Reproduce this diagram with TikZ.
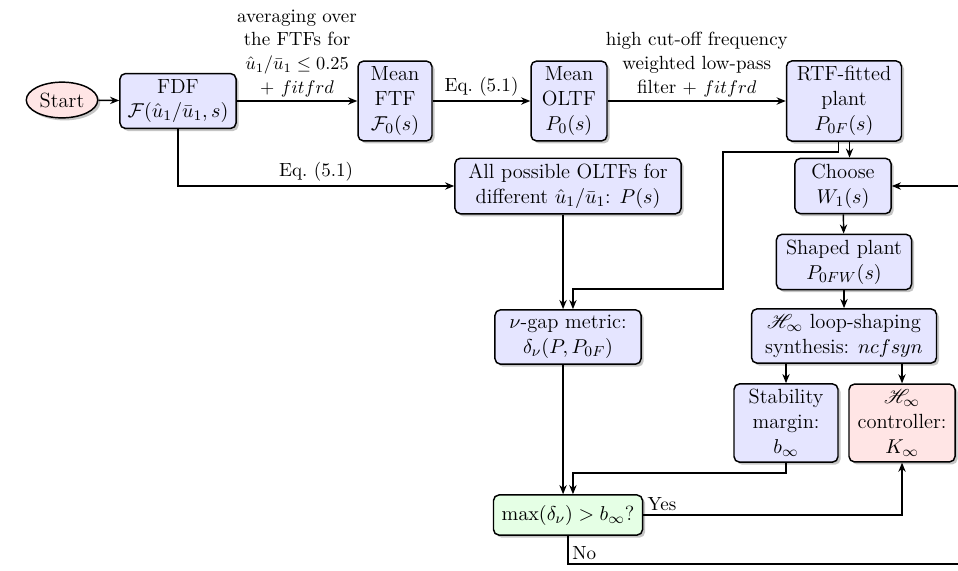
\documentclass[tikz,border=0pt]{standalone}
\usepackage{amsmath,amssymb}
\usepackage{mathrsfs}
\usepackage{tikz}
\usetikzlibrary{shapes.geometric,arrows.meta,shadows}

\begin{document}
\begin{tikzpicture}[x=0.0192cm,y=-0.0192cm,
        block/.style={draw=black,thick,rounded corners=3pt,fill=blue!10,align=center,
          font=\fontsize{11.2}{13.6}\selectfont,inner xsep=2.5pt,inner ysep=3pt,
          drop shadow={shadow xshift=1.4pt,shadow yshift=-1.4pt,fill=black!45}},
        redblock/.style={block,fill=red!10},
        greenblock/.style={block,fill=green!10},
        startnode/.style={draw=black,thick,ellipse,fill=red!10,minimum width=39pt,minimum height=19.5pt,
          font=\fontsize{11.2}{13.6}\selectfont,inner sep=1pt,
          drop shadow={shadow xshift=1.4pt,shadow yshift=-1.4pt,fill=black!45}},
        arr/.style={thick,-{Stealth[length=5pt,width=4pt]}},
        lbl/.style={align=center,inner sep=2pt,font=\fontsize{10.4}{12.9}\selectfont}]
        \useasboundingbox (0,0) rectangle (958,570);
        \clip (0,0) rectangle (958,570);
        \node [startnode] (start) at (62,100) {Start};
        \node [block,minimum width=63.4pt] (fdf) at (178,101) {FDF\\$\mathcal{F}(\hat{u}_1/\bar{u}_1,s)$};
        \node [block,minimum width=40.4pt] (mftf) at (395,101) {Mean\\FTF\\$\mathcal{F}_0(s)$};
        \node [block,minimum width=41.5pt] (moltf) at (569,101) {Mean\\OLTF\\$P_0(s)$};
        \node [block,minimum width=62.8pt] (rtf) at (844,101) {RTF-fitted\\plant\\$P_{0F}(s)$};
        \node [block,minimum width=123.5pt] (allp) at (568,186) {All possible OLTFs for\\different $\hat{u}_1/\bar{u}_1$: $P(s)$};
        \node [block,minimum width=52.5pt] (choose) at (843,186) {Choose\\$W_1(s)$};
        \node [block,minimum width=73.8pt] (shaped) at (844,262) {Shaped plant\\$P_{0FW}(s)$};
        \node [block,minimum width=101pt] (hinf) at (844,336) {$\mathscr{H}_\infty$ loop-shaping\\synthesis: $ncfsyn$};
        \node [block,minimum width=56.8pt] (stab) at (786,423) {Stability\\margin:\\$b_\infty$};
        \node [redblock,minimum width=57.9pt] (ctrl) at (902,423) {$\mathscr{H}_\infty$\\controller:\\$K_\infty$};
        \node [block,minimum width=79.8pt] (ngap) at (568,337) {$\nu$-gap metric:\\$\delta_\nu(P,P_{0F})$};
        \node [greenblock,minimum width=81.4pt,minimum height=21.9pt] (cmp) at (568,515) {$\max(\delta_\nu)>b_\infty$?};
        \coordinate (jogA) at (723,152);
        \coordinate (jogB) at (723,289);
        \coordinate (loopR) at (985,564);
        \draw [arr] (start) -- (fdf);
        \draw [arr] (fdf) -- node [above,lbl] {averaging over\\the FTFs for\\$\hat{u}_1/\bar{u}_1\leq 0.25$\\$+$ $fitfrd$} (mftf);
        \draw [arr] (mftf) -- node [above,lbl] {Eq.~(5.1)} (moltf);
        \draw [arr] (moltf) -- node [above,lbl] {high cut-off frequency\\weighted low-pass\\filter $+$ $fitfrd$} (rtf);
        \draw [arr] (fdf.south) |- node [pos=0.75,above,lbl] {Eq.~(5.1)} (allp.west);
        \draw [arr] ([xshift=-2.7pt]allp.south) -- ([xshift=-2.7pt]ngap.north);
        \draw [arr] ([xshift=-3pt]rtf.south) |- (jogA) -- (jogB) -| ([xshift=2.7pt]ngap.north);
        \draw [arr] ([xshift=3pt]rtf.south) -- ([xshift=3pt]rtf.south |- choose.north);
        \draw [arr] (choose) -- (shaped);
        \draw [arr] (shaped) -- (hinf);
        \draw [arr] (hinf.south -| stab.north) -- (stab.north);
        \draw [arr] (hinf.south -| ctrl.north) -- (ctrl.north);
        \draw [arr] ([xshift=-2.7pt]ngap.south) -- ([xshift=-2.7pt]cmp.north);
        \draw [arr] (stab.south) -- ++(0,10) -| ([xshift=2.7pt]cmp.north);
        \draw [arr] (cmp.east) -| node [pos=0,above right,lbl] {Yes} (ctrl.south);
        \draw [arr] (cmp.south) |- node [pos=0.5,above right,lbl] {No} (loopR) |- (choose.east);
\end{tikzpicture}
\end{document}
